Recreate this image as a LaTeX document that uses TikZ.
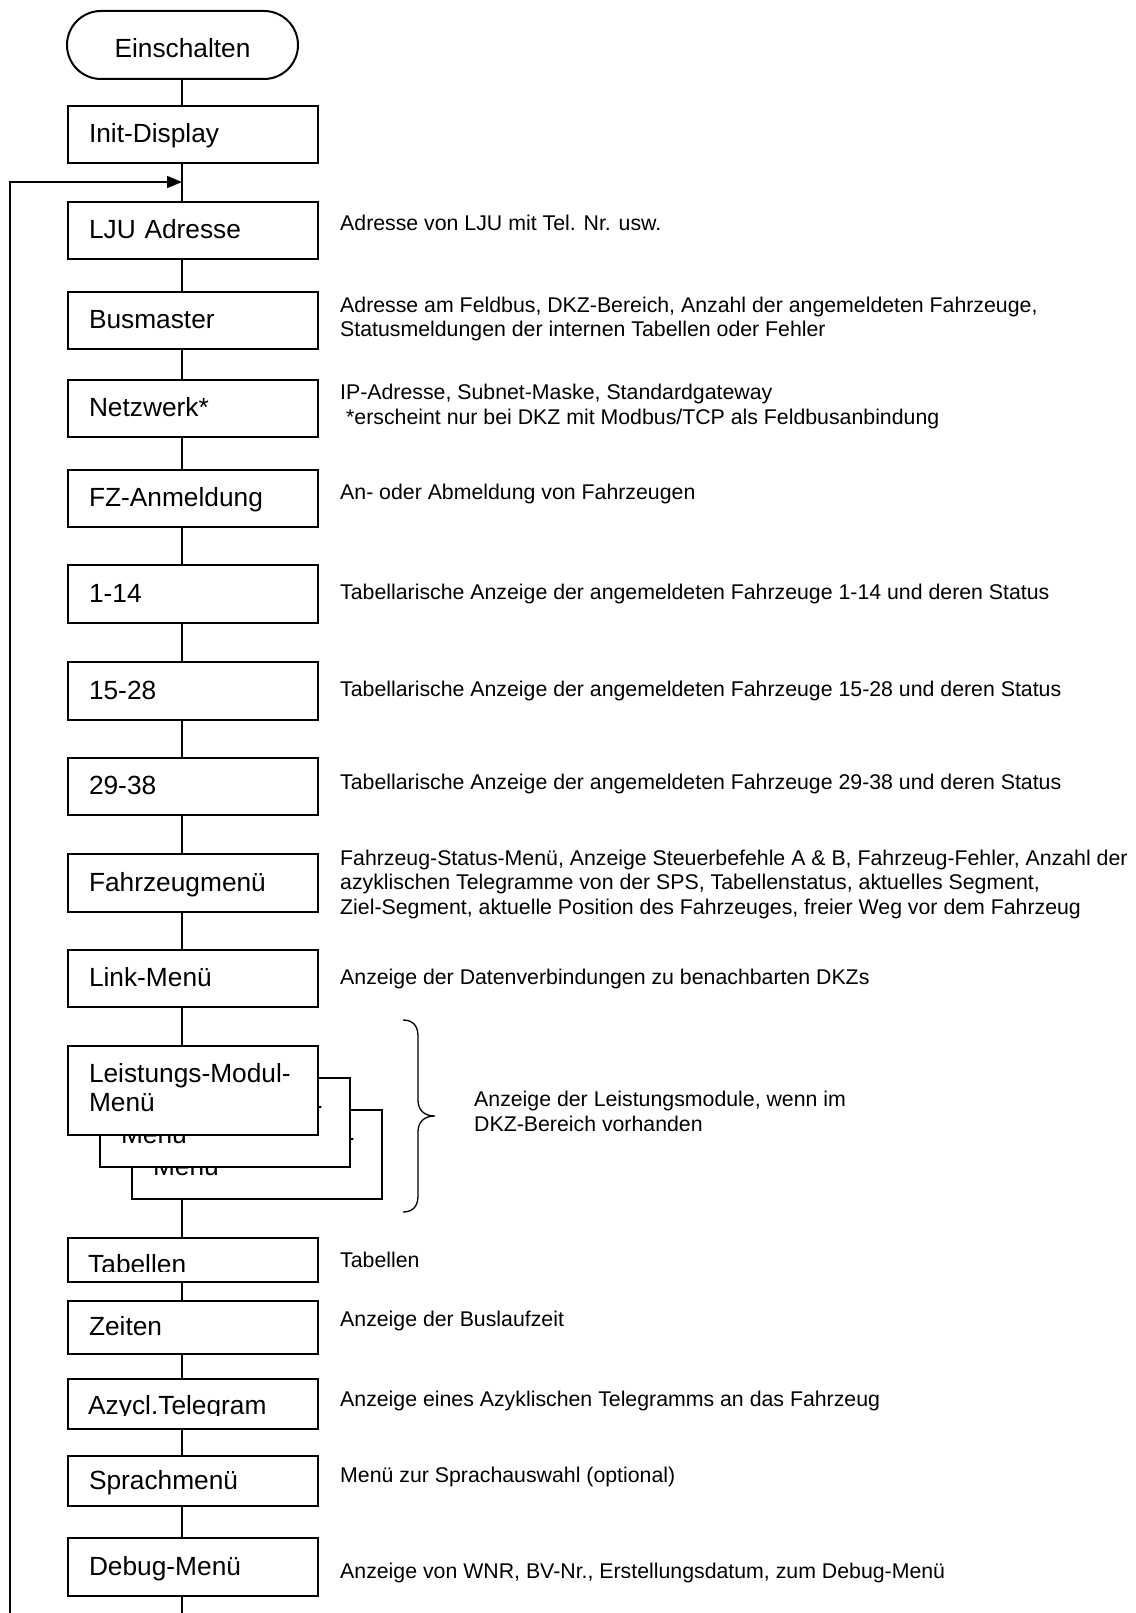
\documentclass[tikz,border=0pt]{standalone}
\usepackage{fontspec}
\setmainfont{Liberation Sans}
\usetikzlibrary{arrows.meta,positioning}
\newcommand\mboxfont{\fontsize{26.3}{29}\selectfont}
\newcommand\mdescfont{\fontsize{21.3}{24.5}\selectfont}

\begin{document}
\begin{tikzpicture}[
    x=1pt, y=-1pt,
    menubox/.style={draw, line width=2pt, fill=white, anchor=north west, text width=208pt, inner xsep=21pt, inner ysep=0pt, align=left, font=\mboxfont, text height=18.8pt, text depth=2pt},
    stackbox/.style={draw, line width=2pt, fill=white, anchor=north west, text width=208pt, inner xsep=21pt, inner ysep=0pt, align=left, font=\mboxfont, minimum height=89pt},
    desc/.style={inner sep=0pt, align=left, font=\mdescfont},
    conn/.style={line width=1.5pt},
    arr/.style={line width=1.5pt, -{Triangle[length=15pt, width=12pt]}}
  ]
  \useasboundingbox (0,0) rectangle (1135,1613);
  \coordinate (axis) at (182,0);

  % start and menu chain
  \node[draw, line width=2pt, rounded corners=34pt, minimum width=231pt, minimum height=68pt, font=\mboxfont, text height=24.8pt, text depth=0pt] (einschalten) at (182.5,45) {Einschalten};
  \node[menubox, minimum height=57pt] (init) at (67,105) {Init-Display};
  \node[menubox, minimum height=57pt] (lju) at (67,201) {LJU Adresse};
  \node[menubox, minimum height=57pt] (busmaster) at (67,291) {Busmaster};
  \node[menubox, minimum height=57pt] (netzwerk) at (67,379) {Netzwerk*};
  \node[menubox, minimum height=57pt] (fzanm) at (67,469) {FZ-Anmeldung};
  \node[menubox, minimum height=58pt] (fz1) at (67,564) {1-14};
  \node[menubox, minimum height=58pt] (fz2) at (67,661) {15-28};
  \node[menubox, minimum height=57pt] (fz3) at (67,757) {29-38};
  \node[menubox, minimum height=58pt] (fzmenu) at (67,853) {Fahrzeugmenü};
  \node[menubox, minimum height=57pt] (link) at (67,949) {Link-Menü};

  % stacked power module menus
  \node[stackbox] (lmc) at (131,1109) {Leistungs-Modul-\\Menü\rule[-7pt]{0pt}{7pt}};
  \node[stackbox] (lmb) at (99,1077) {Leistungs-Modul-\\Menü\rule[-7pt]{0pt}{7pt}};
  \node[stackbox] (lm) at (67,1045) {Leistungs-Modul-\\Menü\rule[-7pt]{0pt}{7pt}};

  \node[menubox, minimum height=44pt] (tabellen) at (67,1237) {};
  \begin{scope}
    \clip (67,1237) rectangle (317,1271.5);
    \node[anchor=base west, inner sep=0pt, font=\mboxfont] (tabellentext) at (88,1273) {Tabellen};
  \end{scope}
  \node[menubox, minimum height=53pt] (zeiten) at (67,1300) {Zeiten};
  \node[menubox, minimum height=50pt] (azycl) at (67,1378) {};
  \begin{scope}
    \clip (67,1378) rectangle (317,1415.5);
    \node[anchor=base west, inner sep=0pt, font=\mboxfont] (azycltext) at (88,1414) {Azycl.Telegram};
  \end{scope}
  \node[menubox, minimum height=50pt] (sprache) at (67,1455) {Sprachmenü};
  \node[menubox, minimum height=58pt] (debug) at (67,1537) {Debug-Menü};

  % connectors
  \coordinate (join) at (182,182);
  \coordinate (loopbot) at (10,1613);
  \coordinate (stembot) at (182,1613);
  \draw[conn] (einschalten.south -| axis) -- (init.north -| axis)
    (init.south -| axis) -- (lju.north -| axis)
    (lju.south -| axis) -- (busmaster.north -| axis)
    (busmaster.south -| axis) -- (netzwerk.north -| axis)
    (netzwerk.south -| axis) -- (fzanm.north -| axis)
    (fzanm.south -| axis) -- (fz1.north -| axis)
    (fz1.south -| axis) -- (fz2.north -| axis)
    (fz2.south -| axis) -- (fz3.north -| axis)
    (fz3.south -| axis) -- (fzmenu.north -| axis)
    (fzmenu.south -| axis) -- (link.north -| axis)
    (link.south -| axis) -- (lm.north -| axis)
    (lmc.south -| axis) -- (tabellen.north -| axis)
    (tabellen.south -| axis) -- (zeiten.north -| axis)
    (zeiten.south -| axis) -- (azycl.north -| axis)
    (azycl.south -| axis) -- (sprache.north -| axis)
    (sprache.south -| axis) -- (debug.north -| axis)
    (debug.south -| axis) -- (stembot);
  \draw[arr] (loopbot) |- (join);

  % brace
  \coordinate (bracetip) at (435,1116);
  \draw[line width=1.3pt] (403,1020) .. controls (413,1020) and (418,1026) .. (418,1036) -- (418,1100)
    .. controls (418,1110) and (424,1116) .. (bracetip)
    .. controls (424,1116) and (418,1122) .. (418,1132) -- (418,1196)
    .. controls (418,1206) and (413,1212) .. (403,1212);

  % descriptions
  \node[desc, right=21pt of lju, yshift=7.5pt] (ljutext) {Adresse von LJU mit Tel. Nr. usw.};
  \node[desc, right=21pt of busmaster, yshift=1.5pt] (bustext) {Adresse am Feldbus, DKZ-Bereich, Anzahl der angemeldeten Fahrzeuge,\\Statusmeldungen der internen Tabellen oder Fehler};
  \node[desc, right=21pt of netzwerk, yshift=2pt] (netztext) {IP-Adresse, Subnet-Maske, Standardgateway\\\hspace*{0.28em}*erscheint nur bei DKZ mit Modbus/TCP als Feldbusanbindung};
  \node[desc, right=21pt of fzanm, yshift=4.5pt] (fzanmtext) {An- oder Abmeldung von Fahrzeugen};
  \node[desc, right=21pt of fz1] (fz1text) {Tabellarische Anzeige der angemeldeten Fahrzeuge 1-14 und deren Status};
  \node[desc, right=21pt of fz2] (fz2text) {Tabellarische Anzeige der angemeldeten Fahrzeuge 15-28 und deren Status};
  \node[desc, right=21pt of fz3, yshift=2.5pt] (fz3text) {Tabellarische Anzeige der angemeldeten Fahrzeuge 29-38 und deren Status};
  \node[desc, right=21pt of fzmenu, yshift=-1pt] (fzmenutext) {Fahrzeug-Status-Menü, Anzeige Steuerbefehle A \& B, Fahrzeug-Fehler, Anzahl der\\azyklischen Telegramme von der SPS, Tabellenstatus, aktuelles Segment,\\Ziel-Segment, aktuelle Position des Fahrzeuges, freier Weg vor dem Fahrzeug};
  \node[desc, right=21pt of link] (linktext) {Anzeige der Datenverbindungen zu benachbarten DKZs};
  \node[desc, right=39pt of bracetip, yshift=4.5pt] (lmtext) {Anzeige der Leistungsmodule, wenn im\\DKZ-Bereich vorhanden};
  \node[desc, right=21pt of tabellen] (tabtext) {Tabellen};
  \node[desc, right=21pt of zeiten, yshift=7pt] (zeitentext) {Anzeige der Buslaufzeit};
  \node[desc, right=21pt of azycl, yshift=3pt] (azycltext2) {Anzeige eines Azyklischen Telegramms an das Fahrzeug};
  \node[desc, right=21pt of sprache, yshift=4.5pt] (sprachtext) {Menü zur Sprachauswahl (optional)};
  \node[desc, right=21pt of debug, yshift=-6pt] (debugtext) {Anzeige von WNR, BV-Nr., Erstellungsdatum, zum Debug-Menü};
\end{tikzpicture}
\end{document}
